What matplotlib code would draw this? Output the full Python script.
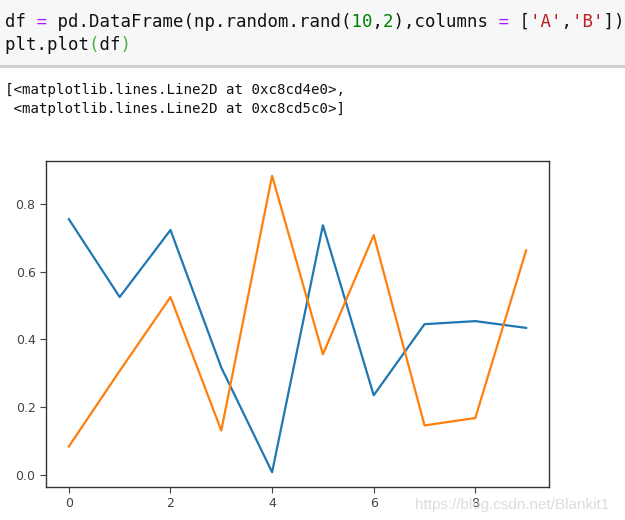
import matplotlib
matplotlib.use("Agg")
import matplotlib.pyplot as plt
import numpy as np

# ---- data ----
x_vals = list(range(10))
series_a = [0.755, 0.525, 0.723, 0.317, 0.008, 0.737, 0.235, 0.445, 0.454, 0.434]
series_b = [0.084, 0.307, 0.525, 0.131, 0.883, 0.356, 0.708, 0.146, 0.168, 0.663]
y_ticks = [0.0, 0.2, 0.4, 0.6, 0.8]
x_ticks = [0, 2, 4, 6, 8]

code_lines = [
    "df = pd.DataFrame(np.random.rand(10,2),columns = ['A','B'])",
    "plt.plot(df)",
]
# syntax colour spans: (line, start, end, colour key)
code_spans = [
    (0, 3, 4, "p"), (0, 33, 35, "g"), (0, 36, 37, "g"), (0, 47, 48, "p"),
    (0, 50, 53, "r"), (0, 54, 57, "r"),
    (1, 8, 9, "l"), (1, 11, 12, "l"),
]
out_lines = [
    "[<matplotlib.lines.Line2D at 0xc8cd4e0>,",
    " <matplotlib.lines.Line2D at 0xc8cd5c0>]",
]
watermark = "https://blog.csdn.net/Blankit1"

W, H = 625, 520
fig = plt.figure(figsize=(W / 100, H / 100), dpi=100)
fig.patch.set_facecolor("white")

# code cell background
fig.patches.append(matplotlib.patches.Rectangle((0, 1 - 65 / H), 1, 65 / H,
                   transform=fig.transFigure, facecolor="#f7f7f7", edgecolor="none", zorder=0))
fig.patches.append(matplotlib.patches.Rectangle((0, 1 - 67.5 / H), 1, 2.5 / H,
                   transform=fig.transFigure, facecolor="#cfcfcf", edgecolor="none", zorder=0))

palette = {"k": "#111111", "p": "#aa22ff", "g": "#008000", "r": "#ba2121", "l": "#4cae4c"}
code_y = [22, 45]
for li, (line, yy) in enumerate(zip(code_lines, code_y)):
    cols = ["k"] * len(line)
    for (l, s, e, c) in code_spans:
        if l == li:
            for i in range(s, e):
                cols[i] = c
    for key, col in palette.items():
        s = "".join(ch if c == key else " " for ch, c in zip(line, cols))
        if s.strip():
            fig.text(5 / W, 1 - yy / H, s, family="DejaVu Sans Mono", fontsize=12.5,
                     color=col, va="center", ha="left")

out_y = [90, 109]
for line, yy in zip(out_lines, out_y):
    fig.text(5 / W, 1 - yy / H, line, family="DejaVu Sans Mono", fontsize=10.2,
             color="#111111", va="center", ha="left")

# chart
ax = fig.add_axes([46 / W, 33 / H, 503 / W, 326 / H])
ax.plot(x_vals, series_a, color="#1f77b4", lw=1.6)
ax.plot(x_vals, series_b, color="#ff7f0e", lw=1.6)
ax.set_xticks(x_ticks)
ax.set_yticks(y_ticks)
ax.set_xticklabels([str(t) for t in x_ticks])
ax.set_yticklabels([f"{t:.1f}" for t in y_ticks])
ax.tick_params(labelsize=9, colors="#444444", length=4)
for sp in ax.spines.values():
    sp.set_color("#333333")
    sp.set_linewidth(1.0)

fig.text(415 / W, 1 - 505 / H, watermark, family="Liberation Sans", fontsize=11,
         color="#dcdcdc", va="center", ha="left")

fig.savefig("out.png", dpi=100)
